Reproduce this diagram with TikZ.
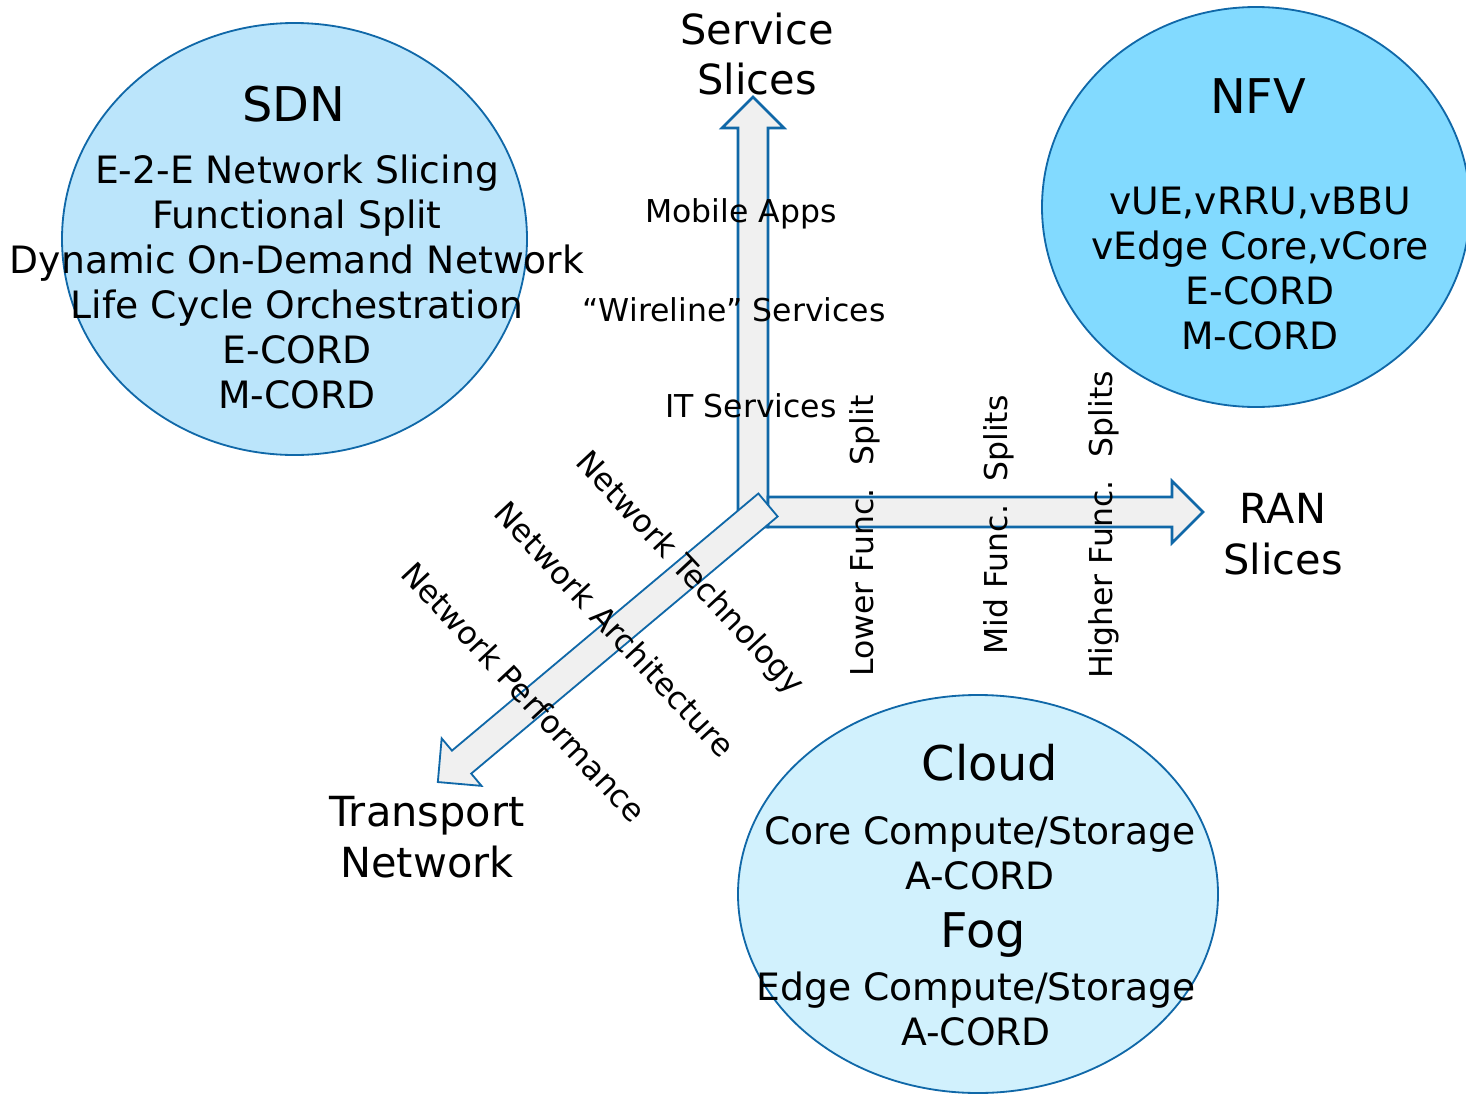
\documentclass[tikz,border=0pt]{standalone}
\usepackage{fontspec}
\setmainfont{DejaVu Sans}
\usetikzlibrary{shapes.geometric}
\definecolor{sdnfill}{RGB}{187,229,251}
\definecolor{nfvfill}{RGB}{130,218,255}
\definecolor{cloudfill}{RGB}{209,241,253}
\definecolor{edgeblue}{RGB}{16,104,168}
\definecolor{axisfill}{RGB}{240,240,240}

\begin{document}
\begin{tikzpicture}[
    x=0.25mm, y=-0.25mm,
    zone/.style={
        ellipse, draw=edgeblue, line width=1.3pt,
        fill=#1, inner sep=0pt
    },
    axisarrow/.style={
        draw=edgeblue, line width=1.8pt,
        fill=axisfill, line join=miter
    },
    heading/.style={font=\fontsize{34}{40}\selectfont, inner sep=0pt},
    itemtext/.style={font=\fontsize{26.8}{32}\selectfont, align=center, inner sep=0pt},
    axistitle/.style={font=\fontsize{29.5}{36}\selectfont, align=center, inner sep=0pt},
    ticklabel/.style={font=\fontsize{22.4}{27}\selectfont, inner sep=0pt}
]
\useasboundingbox (0,0) rectangle (1466,1095);

% Zones
\node[zone=sdnfill, minimum width=116.25mm, minimum height=108mm] (sdn) at (294.5,239) {};
\node[zone=nfvfill, minimum width=107mm, minimum height=100mm] (nfv) at (1256,207) {};
\node[zone=cloudfill, minimum width=120mm, minimum height=99.5mm] (cloud) at (978,894) {};

% Zone texts
\node[heading] (sdntitle) at (294,104) {SDN};
\node[itemtext] (sdnitems) at (297,282) {E-2-E Network Slicing\\Functional Split\\Dynamic On-Demand Network\\Life Cycle Orchestration\\E-CORD\\M-CORD};

\node[heading] (nfvtitle) at (1258,96) {NFV};
\node[itemtext] (nfvitems) at (1260,269) {vUE,vRRU,vBBU\\vEdge Core,vCore\\E-CORD\\M-CORD};

\node[heading] (cloudtitle) at (990,763) {Cloud};
\node[itemtext] (clouditems) at (980,853) {Core Compute/Storage\\A-CORD};
\node[heading] (fogtitle) at (983,935) {Fog};
\node[itemtext] (fogitems) at (976,1009) {Edge Compute/Storage\\A-CORD};

% Axes
\coordinate (hub) at (768,505);
\draw[axisarrow] (738,527) -- (738,128) -- (722,128) -- (753,97) -- (784,128) -- (768,128) -- (768,527) -- cycle;
\draw[axisarrow] (768,497) -- (1172,497) -- (1172,481) -- (1203,512) -- (1172,543) -- (1172,527) -- (768,527) -- cycle;
\begin{scope}[shift={(hub)}, rotate=220]
\draw[axisarrow, line width=1.3pt] (0,-15) -- (400,-15) -- (400,-31) -- (431,0) -- (400,31) -- (400,15) -- (0,15) -- cycle;
\end{scope}

% Axis titles
\node[axistitle] (service) at (757,54) {Service\\Slices};
\node[axistitle] (ran) at (1283,534) {RAN\\Slices};
\node[axistitle] (transport) at (427,837) {Transport\\Network};

% Service axis labels
\node[ticklabel] (apps) at (741,214) {Mobile Apps};
\node[ticklabel] (wireline) at (734,310) {“Wireline” Services};
\node[ticklabel] (itserv) at (751,406) {IT Services};

% RAN axis labels
\node[ticklabel, rotate=90] (lowsplit) at (865,536) {Lower Func.~ Split};
\node[ticklabel, rotate=90] (midsplit) at (999,525) {Mid Func.~ Splits};
\node[ticklabel, rotate=90] (highsplit) at (1104,525) {Higher Func.~ Splits};

% Transport axis labels
\node[ticklabel, rotate=-47] (nettech) at (689,574) {Network Technology};
\node[ticklabel, rotate=-47] (netarch) at (615,629) {Network Architecture};
\node[ticklabel, rotate=-47] (netperf) at (524,692) {Network Performance};

\end{tikzpicture}
\end{document}
